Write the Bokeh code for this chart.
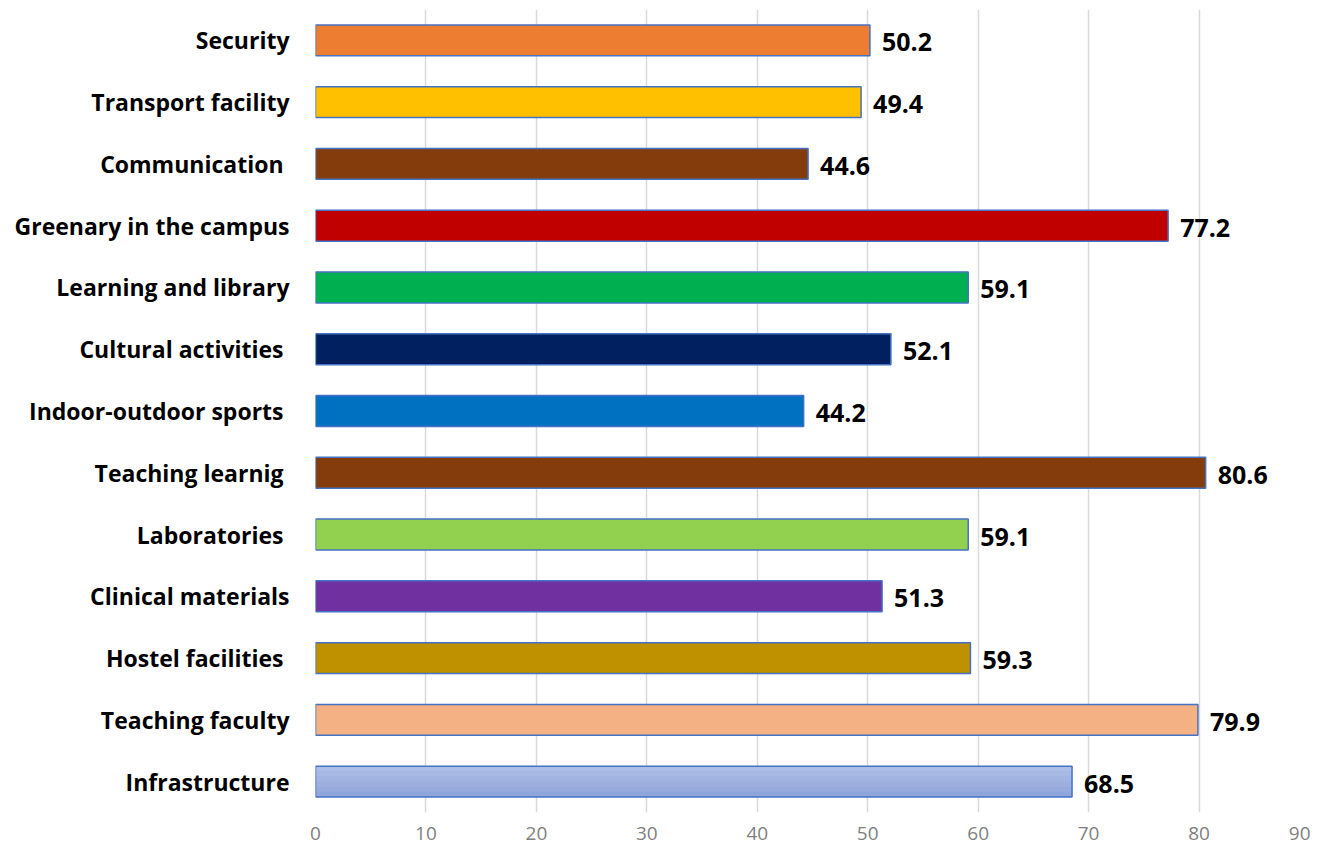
from bokeh.plotting import figure
from bokeh.models import ColumnDataSource, FactorRange, Range1d, FixedTicker
from bokeh.core.properties import value
from bokeh.transform import dodge
from bokeh.embed import file_html
from bokeh.resources import INLINE

categories = ["Infrastructure", "Teaching faculty", "Hostel facilities ", "Clinical materials",
              "Laboratories ", "Teaching learnig ", "Indoor-outdoor sports ", "Cultural activities ",
              "Learning and library", "Greenary in the campus", "Communication ",
              "Transport facility", "Security"]
values = [68.5, 79.9, 59.3, 51.3, 59.1, 80.6, 44.2, 52.1, 59.1, 77.2, 44.6, 49.4, 50.2]
colors = ["#9DB0DF", "#F4B183", "#BF9000", "#7030A0", "#92D050", "#843C0C", "#0070C0",
          "#002060", "#00B050", "#C00000", "#843C0C", "#FFC000", "#ED7D31"]
x_ticks = [0, 10, 20, 30, 40, 50, 60, 70, 80, 90]
# gradient shades for the first (Infrastructure) bar, top to bottom
grad_colors = ["#AEBEE6", "#A8B9E3", "#A2B4E1", "#9CAFDE", "#96AADC", "#90A6DA"]

src = ColumnDataSource(dict(cat=categories, val=values, col=colors,
                            lab=["%.1f" % v for v in values]))

FONT = "Open Sans"
p = figure(width=1310, height=848, y_range=FactorRange(*categories, range_padding=0),
           x_range=Range1d(0, 90), output_backend="svg", toolbar_location=None,
           min_border_left=315, min_border_right=1, min_border_top=9, min_border_bottom=36)

p.hbar(y="cat", right="val", left=0, height=0.5, fill_color="col", source=src,
       line_color=None)
# gradient strips on the Infrastructure bar
n = len(grad_colors)
for i, c in enumerate(grad_colors):
    off = 0.25 - (i + 0.5) * 0.5 / n
    p.hbar(y=dodge("cat", off, range=p.y_range), right="val", left=0, height=0.5 / n + 0.002,
           fill_color=c, line_color=None,
           source=ColumnDataSource(dict(cat=categories[:1], val=values[:1])))
p.hbar(y="cat", right="val", left=0, height=0.5, fill_color=None, source=src,
       line_color="#4472C4", line_width=1.5)
p.text(x="val", y="cat", text="lab", source=src, x_offset=12, y_offset=2,
       text_baseline="middle", text_align="left", text_font=value(FONT),
       text_font_style="bold", text_font_size="25px", text_color="black")

p.outline_line_color = None
p.ygrid.grid_line_color = None
p.xgrid.grid_line_color = "#D9D9D9"
p.xgrid.grid_line_width = 1.5
p.xaxis.ticker = FixedTicker(ticks=x_ticks)
p.xaxis.axis_line_color = None
p.xaxis.major_tick_line_color = None
p.xaxis.minor_tick_line_color = None
p.xaxis.major_label_text_font = FONT
p.xaxis.major_label_text_font_size = "19px"
p.xaxis.major_label_text_color = "#7F7F7F"
p.xaxis.major_label_standoff = 8
p.yaxis.axis_line_color = None
p.yaxis.major_tick_line_color = None
p.yaxis.minor_tick_line_color = None
p.yaxis.major_label_text_font = FONT
p.yaxis.major_label_text_font_style = "bold"
p.yaxis.major_label_text_font_size = "23px"
p.yaxis.major_label_text_color = "black"
p.yaxis.major_label_standoff = 20

open("out.html", "w").write(file_html(p, INLINE))
